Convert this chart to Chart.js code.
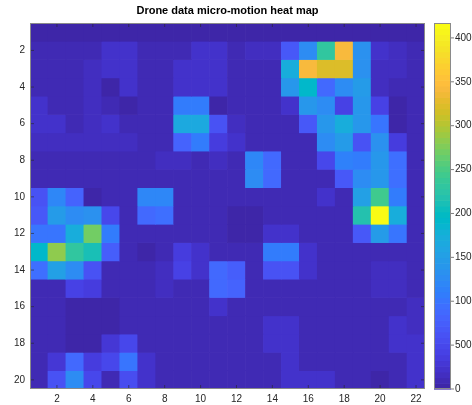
<!DOCTYPE html>
<html>
<head>
<meta charset="UTF-8">
<title>Drone data micro-motion heat map</title>
<script src="https://cdn.jsdelivr.net/npm/chart.js"></script>
<style>
  html, body { margin: 0; padding: 0; background: #fff; }
  #wrap { width: 472px; height: 405px; position: relative; }
</style>
</head>
<body>
<div id="wrap"><canvas id="heat"></canvas></div>
<script>
const titulo = 'Drone data micro-motion heat map';
const colunas = [1,2,3,4,5,6,7,8,9,10,11,12,13,14,15,16,17,18,19,20,21,22];
const linhas = [1,2,3,4,5,6,7,8,9,10,11,12,13,14,15,16,17,18,19,20];
const xTicks = [2,4,6,8,10,12,14,16,18,20,22];
const yTicks = [2,4,6,8,10,12,14,16,18,20];
const cbTicks = [0,500,1000,1500,2000,2500,3000,3500,4000];
const cbMin = 0;
const cbMax = 4170;

// one row per line of the image, 22 columns each
const valores = [
  [40,40,40,40,40,40,40,40,40,40,40,40,40,40,40,40,40,40,40,40,40,40],
  [100,100,100,100,220,220,100,100,100,200,200,130,170,170,700,1250,2300,3450,1350,200,170,130],
  [100,100,100,170,220,220,100,100,200,200,200,130,100,130,1700,3450,3250,3250,1350,170,170,130],
  [100,100,100,170,50,200,120,120,200,200,200,100,100,100,1400,1950,850,1250,1450,150,100,100],
  [200,100,100,170,100,50,100,130,1100,1100,60,100,100,100,250,1400,1250,400,1400,400,60,100],
  [200,200,100,170,230,100,100,100,1650,1650,650,170,100,100,100,700,1400,1700,1400,1000,60,100],
  [150,150,150,170,170,150,130,70,800,1050,350,200,100,100,100,100,1250,1450,600,1350,350,100],
  [100,100,100,100,100,100,100,170,170,100,150,130,1200,850,100,100,500,1150,1050,1400,950,100],
  [100,100,100,100,100,100,100,100,100,100,100,100,1250,900,100,100,100,700,1300,1400,950,100],
  [600,1200,800,60,100,100,1200,1200,100,100,100,100,100,100,100,100,200,100,1550,2450,1100,100],
  [700,1450,1300,1350,500,100,900,950,100,100,100,50,50,100,100,100,100,100,2200,4170,1700,100],
  [1000,1000,1700,2700,1050,100,100,100,100,100,100,50,50,230,230,100,100,100,700,1450,1000,100],
  [1900,2850,2300,2100,750,100,40,80,330,230,100,100,100,1050,1050,230,100,100,100,100,100,100],
  [950,1500,1250,650,100,100,100,170,450,200,850,750,100,600,600,200,100,100,100,170,170,100],
  [100,100,400,350,100,100,100,170,100,100,900,800,100,100,100,100,100,100,100,170,170,100],
  [100,100,50,50,50,100,100,100,100,100,230,100,100,100,100,100,100,100,100,100,100,170],
  [100,100,50,50,50,100,100,100,100,100,100,100,100,200,200,100,100,100,100,100,200,170],
  [100,100,50,50,300,500,100,100,100,100,100,100,100,200,200,100,100,100,100,100,200,230],
  [100,300,850,350,500,1000,230,100,100,100,100,100,100,100,200,100,100,100,100,100,100,230],
  [100,650,1300,500,100,550,230,100,100,100,100,100,100,100,200,200,200,100,100,40,100,230]
];

// parula, 64 steps
const parula = [
  [0.2422,0.1504,0.6603],[0.2504,0.1650,0.7076],[0.2578,0.1818,0.7511],[0.2647,0.1978,0.7952],
  [0.2706,0.2147,0.8364],[0.2751,0.2342,0.8710],[0.2783,0.2559,0.8991],[0.2803,0.2782,0.9221],
  [0.2813,0.3006,0.9414],[0.2810,0.3228,0.9579],[0.2795,0.3447,0.9717],[0.2760,0.3667,0.9829],
  [0.2699,0.3892,0.9906],[0.2602,0.4123,0.9952],[0.2440,0.4358,0.9988],[0.2206,0.4603,0.9973],
  [0.1963,0.4847,0.9892],[0.1834,0.5074,0.9798],[0.1786,0.5289,0.9682],[0.1764,0.5499,0.9520],
  [0.1687,0.5703,0.9359],[0.1540,0.5902,0.9218],[0.1460,0.6091,0.9079],[0.1380,0.6276,0.8973],
  [0.1248,0.6459,0.8883],[0.1113,0.6635,0.8763],[0.0952,0.6798,0.8598],[0.0689,0.6948,0.8394],
  [0.0297,0.7082,0.8163],[0.0036,0.7203,0.7917],[0.0067,0.7312,0.7660],[0.0433,0.7411,0.7394],
  [0.0964,0.7500,0.7120],[0.1408,0.7584,0.6842],[0.1717,0.7670,0.6554],[0.1938,0.7758,0.6251],
  [0.2161,0.7843,0.5923],[0.2470,0.7918,0.5567],[0.2906,0.7973,0.5188],[0.3406,0.8008,0.4789],
  [0.3909,0.8029,0.4354],[0.4456,0.8024,0.3909],[0.5044,0.7993,0.3480],[0.5616,0.7942,0.3045],
  [0.6174,0.7876,0.2612],[0.6720,0.7793,0.2227],[0.7242,0.7698,0.1910],[0.7738,0.7598,0.1646],
  [0.8203,0.7498,0.1535],[0.8634,0.7406,0.1596],[0.9035,0.7330,0.1774],[0.9393,0.7288,0.2100],
  [0.9728,0.7298,0.2394],[0.9956,0.7434,0.2371],[0.9970,0.7659,0.2199],[0.9952,0.7893,0.2028],
  [0.9892,0.8136,0.1885],[0.9786,0.8386,0.1766],[0.9676,0.8639,0.1643],[0.9610,0.8890,0.1537],
  [0.9597,0.9135,0.1423],[0.9628,0.9373,0.1265],[0.9691,0.9606,0.1064],[0.9769,0.9839,0.0805]
];

function rgb(c) {
  return 'rgb(' + Math.round(c[0]*255) + ',' + Math.round(c[1]*255) + ',' + Math.round(c[2]*255) + ')';
}
function corDe(v) {
  let i = Math.floor((v - cbMin) / (cbMax - cbMin) * parula.length);
  i = Math.max(0, Math.min(parula.length - 1, i));
  return rgb(parula[i]);
}

const fonte = { family: "'Liberation Sans', Arial, sans-serif", size: 10 };
const corTexto = '#262626';

// each image row is one dataset of floating bars spanning [r-0.5, r+0.5]
const datasets = linhas.map((r, k) => ({
  data: colunas.map(c => ({ x: c, y: [r - 0.5, r + 0.5] })),
  backgroundColor: valores[k].map(corDe),
  borderWidth: 0,
  barPercentage: 1,
  categoryPercentage: 1,
  grouped: false
}));

const molduraPlugin = {
  id: 'moldura',
  afterDraw(chart) {
    const ctx = chart.ctx;
    const a = chart.chartArea;
    const sx = chart.scales.x, sy = chart.scales.y, cb = chart.scales.cb;
    ctx.save();
    // title
    ctx.fillStyle = '#000';
    ctx.font = "bold 11px 'Liberation Sans', Arial, sans-serif";
    ctx.textAlign = 'center';
    ctx.textBaseline = 'middle';
    ctx.fillText(titulo, (a.left + a.right) / 2, a.top - 12);
    // inward ticks
    ctx.strokeStyle = '#262626';
    ctx.lineWidth = 0.6;
    ctx.beginPath();
    xTicks.forEach(v => {
      const px = sx.getPixelForValue(v);
      ctx.moveTo(px, a.bottom); ctx.lineTo(px, a.bottom - 4);
      ctx.moveTo(px, a.top); ctx.lineTo(px, a.top + 4);
    });
    yTicks.forEach(v => {
      const py = sy.getPixelForValue(v);
      ctx.moveTo(a.left, py); ctx.lineTo(a.left + 4, py);
      ctx.moveTo(a.right, py); ctx.lineTo(a.right - 4, py);
    });
    ctx.stroke();
    // box
    ctx.strokeStyle = '#8a8a8a';
    ctx.lineWidth = 1;
    ctx.strokeRect(a.left + 0.5, a.top + 0.5, a.right - a.left - 1, a.bottom - a.top - 1);
    // colorbar
    const x0 = a.right + 9, w = 17;
    const n = parula.length;
    for (let i = 0; i < n; i++) {
      const v0 = cbMin + (cbMax - cbMin) * i / n;
      const v1 = cbMin + (cbMax - cbMin) * (i + 1) / n;
      const p0 = cb.getPixelForValue(v0), p1 = cb.getPixelForValue(v1);
      ctx.fillStyle = rgb(parula[i]);
      ctx.fillRect(x0, p1, w, p0 - p1 + 0.6);
    }
    ctx.strokeStyle = '#8a8a8a';
    ctx.strokeRect(x0 + 0.5, cb.top + 0.5, w - 1, cb.bottom - cb.top - 1);
    ctx.strokeStyle = '#262626';
    ctx.lineWidth = 0.6;
    ctx.beginPath();
    cbTicks.forEach(v => {
      const py = cb.getPixelForValue(v);
      ctx.moveTo(x0 + w, py); ctx.lineTo(x0 + w + 3, py);
    });
    ctx.stroke();
    ctx.restore();
  }
};

const semPadding = s => { s.paddingTop = 0; s.paddingBottom = 0; s.paddingLeft = 0; s.paddingRight = 0; };

new Chart(document.getElementById('heat'), {
  type: 'bar',
  data: { datasets: datasets },
  options: {
    responsive: true,
    maintainAspectRatio: false,
    animation: false,
    layout: { padding: { top: 23, right: 0, bottom: 0, left: 0 } },
    plugins: { legend: { display: false }, tooltip: { enabled: false }, title: { display: false } },
    scales: {
      x: {
        type: 'linear', min: 0.5, max: 22.5, offset: false,
        grid: { display: false, drawTicks: false },
        border: { display: false },
        ticks: { color: corTexto, font: fonte, padding: 4, maxRotation: 0, callback: v => String(v) },
        afterBuildTicks: s => { s.ticks = xTicks.map(v => ({ value: v })); },
        afterFit: s => { s.height = 16; semPadding(s); }
      },
      y: {
        type: 'linear', reverse: true, min: 0.5, max: 20.5,
        grid: { display: false, drawTicks: false },
        border: { display: false },
        ticks: { color: corTexto, font: fonte, padding: 5, callback: v => String(v) },
        afterBuildTicks: s => { s.ticks = yTicks.map(v => ({ value: v })); },
        afterFit: s => { s.width = 30; semPadding(s); }
      },
      cb: {
        type: 'linear', position: 'right', min: cbMin, max: cbMax,
        grid: { display: false, drawTicks: false },
        border: { display: false },
        ticks: { color: corTexto, font: fonte, padding: 30, callback: v => String(v) },
        afterBuildTicks: s => { s.ticks = cbTicks.map(v => ({ value: v })); },
        afterFit: s => { s.width = 47; semPadding(s); }
      }
    }
  },
  plugins: [molduraPlugin]
});
</script>
</body>
</html>
